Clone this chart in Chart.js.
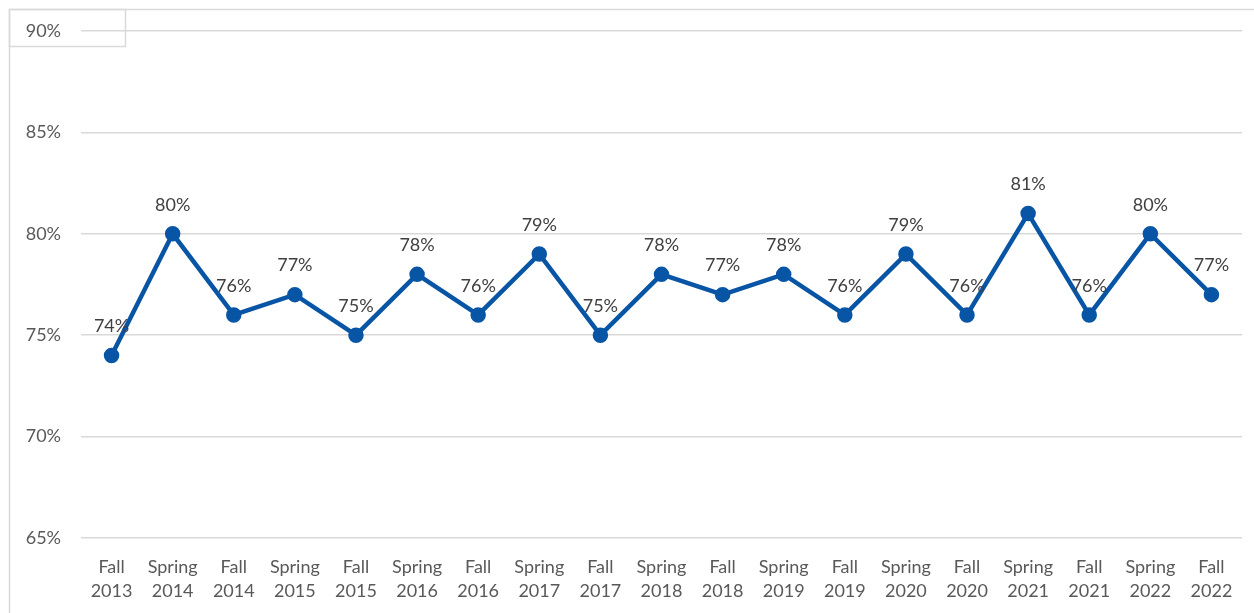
<!DOCTYPE html>
<html>
<head>
<meta charset="utf-8">
<script src="https://cdn.jsdelivr.net/npm/chart.js@4"></script>
<style>
  html, body { margin: 0; padding: 0; background: #fff; }
  #wrap { width: 1254px; height: 613px; position: relative; }
</style>
</head>
<body>
<div id="wrap"><canvas id="rateChart"></canvas></div>
<script>
// Dados do gráfico
const terms = ['Fall', 'Spring', 'Fall', 'Spring', 'Fall', 'Spring', 'Fall', 'Spring', 'Fall', 'Spring',
  'Fall', 'Spring', 'Fall', 'Spring', 'Fall', 'Spring', 'Fall', 'Spring', 'Fall'];
const years = ['2013', '2014', '2014', '2015', '2015', '2016', '2016', '2017', '2017', '2018',
  '2018', '2019', '2019', '2020', '2020', '2021', '2021', '2022', '2022'];
const rates = [74, 80, 76, 77, 75, 78, 76, 79, 75, 78, 77, 78, 76, 79, 76, 81, 76, 80, 77];
const yTicks = [65, 70, 75, 80, 85, 90];

const labels = terms.map((t, i) => [t, years[i]]);
const fontFamily = 'Lato, "Open Sans", sans-serif';

// Moldura do gráfico (linhas cinzentas à volta)
const framePlugin = {
  id: 'frame',
  beforeDraw(chart) {
    const c = chart.ctx;
    c.save();
    c.strokeStyle = '#d9d9d9';
    c.lineWidth = 1.5;
    c.beginPath();
    c.moveTo(9.5, 613);
    c.lineTo(9.5, 9.5);
    c.lineTo(1254, 9.5);
    c.stroke();
    c.strokeRect(9.5, 9.5, 116, 37);
    c.restore();
  }
};

// Rótulos de dados acima de cada ponto
const labelPlugin = {
  id: 'pointLabels',
  afterDatasetsDraw(chart) {
    const c = chart.ctx;
    const meta = chart.getDatasetMeta(0);
    c.save();
    c.font = '18px ' + fontFamily;
    c.fillStyle = '#404040';
    c.textAlign = 'center';
    c.textBaseline = 'middle';
    meta.data.forEach((pt, i) => {
      c.fillText(rates[i] + '%', pt.x, pt.y - 29);
    });
    c.restore();
  }
};

new Chart(document.getElementById('rateChart'), {
  type: 'line',
  data: {
    labels: labels,
    datasets: [{
      data: rates,
      borderColor: '#0855a5',
      backgroundColor: '#0855a5',
      borderWidth: 4.5,
      pointRadius: 5.5,
      pointHoverRadius: 5.5,
      tension: 0
    }]
  },
  options: {
    responsive: true,
    maintainAspectRatio: false,
    animation: false,
    layout: { padding: { top: 31, right: 12, left: 0, bottom: 0 } },
    plugins: {
      legend: { display: false },
      tooltip: { enabled: false }
    },
    scales: {
      x: {
        offset: true,
        grid: { display: false },
        border: { display: false },
        ticks: {
          color: '#595959',
          font: { family: fontFamily, size: 18, lineHeight: 1.35 },
          padding: 9,
          maxRotation: 0,
          autoSkip: false
        },
        afterFit(scale) { scale.height = 75; }
      },
      y: {
        min: 65,
        max: 90,
        afterBuildTicks(scale) { scale.ticks = yTicks.map(v => ({ value: v })); },
        grid: { color: '#d9d9d9', lineWidth: 1.5, drawTicks: false },
        border: { display: false },
        ticks: {
          color: '#595959',
          font: { family: fontFamily, size: 18 },
          padding: 20,
          callback: v => v + '%'
        },
        afterFit(scale) { scale.width = 81; }
      }
    }
  },
  plugins: [framePlugin, labelPlugin]
});
</script>
</body>
</html>
